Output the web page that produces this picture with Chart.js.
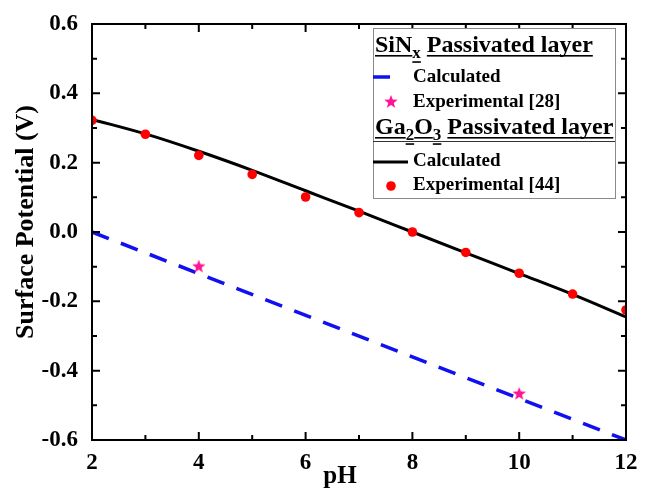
<!DOCTYPE html>
<html>
<head>
<meta charset="utf-8">
<script src="https://cdn.jsdelivr.net/npm/chart.js@4/dist/chart.umd.min.js"></script>
<style>
    html, body { margin: 0; padding: 0; background: #fff; }
</style>
</head>
<body>
<canvas id="chart" width="648" height="490"></canvas>
<script>
    // pH sweep and read-off values
    const phValues = [2, 3, 4, 5, 6, 7, 8, 9, 10, 11, 12];
    const ga2o3Calc = [0.325, 0.283, 0.233, 0.178, 0.119, 0.060, 0.000, -0.060, -0.120, -0.180, -0.245];
    const ga2o3Exp = [0.322, 0.282, 0.221, 0.166, 0.101, 0.056, 0.000, -0.059, -0.119, -0.179, -0.225];

    const sinxCalcPh = [2, 12];
    const sinxCalc = [0.0, -0.6];
    const sinxExpPh = [4, 10];
    const sinxExp = [-0.100, -0.467];

    const xTicks = [2, 4, 6, 8, 10, 12];
    const yTicks = [-0.6, -0.4, -0.2, 0.0, 0.2, 0.4, 0.6];

    const FONT = '"Liberation Serif", "Times New Roman", serif';
    const BLUE = '#1010f0';
    const PINK = '#ff1493';
    const RED = '#ff0000';

    function toPoints(xs, ys) {
        return xs.map(function (x, i) { return {x: x, y: ys[i]}; });
    }

    // filled five point star for the SiNx experimental points
    function makeStar(r, color) {
        let c = document.createElement('canvas');
        c.width = c.height = r * 2 + 2;
        let g = c.getContext('2d');
        g.beginPath();
        for (let i = 0; i < 10; i++) {
            let rad = i % 2 === 0 ? r : r * 0.42;
            let a = -Math.PI / 2 + i * Math.PI / 5;
            let px = r + 1 + rad * Math.cos(a), py = r + 1 + rad * Math.sin(a);
            if (i === 0) g.moveTo(px, py); else g.lineTo(px, py);
        }
        g.closePath();
        g.fillStyle = color;
        g.fill();
        return c;
    }
    const starImg = makeStar(7, PINK);

    function drawRich(ctx, x, y, parts, size) {
        parts.forEach(function (p) {
            let sub = p[1];
            let fs = sub ? Math.round(size * 0.72) : size;
            let dy = sub ? size * 0.26 : 0;
            ctx.font = 'bold ' + fs + 'px ' + FONT;
            let w = ctx.measureText(p[0]).width;
            ctx.fillText(p[0], x, y + dy);
            if (p[0].trim() !== '') ctx.fillRect(x, y + dy + 3, w, 1.6);
            x += w;
        });
    }

    const framePlugin = {
        id: 'frame',
        afterDraw(chart) {
            const ctx = chart.ctx;
            const a = chart.chartArea;
            const xs = chart.scales.x, ys = chart.scales.y;
            ctx.save();
            ctx.strokeStyle = '#000';
            ctx.lineWidth = 2;
            ctx.strokeRect(a.left, a.top, a.right - a.left, a.bottom - a.top);

            ctx.beginPath();
            for (let v = 2; v <= 12; v += 1) {
                let px = xs.getPixelForValue(v);
                let len = v % 2 === 0 ? 8 : 5;
                ctx.moveTo(px, a.bottom); ctx.lineTo(px, a.bottom - len);
                ctx.moveTo(px, a.top); ctx.lineTo(px, a.top + len);
            }
            for (let k = -6; k <= 6; k++) {
                let py = ys.getPixelForValue(k / 10);
                let len = k % 2 === 0 ? 8 : 5;
                ctx.moveTo(a.left, py); ctx.lineTo(a.left + len, py);
                ctx.moveTo(a.right, py); ctx.lineTo(a.right - len, py);
            }
            ctx.stroke();

            // axis titles
            ctx.fillStyle = '#000';
            ctx.textAlign = 'center';
            ctx.textBaseline = 'middle';
            ctx.font = 'bold 25px ' + FONT;
            ctx.fillText('pH', 340, 477);
            ctx.save();
            ctx.translate(26, 222);
            ctx.rotate(-Math.PI / 2);
            ctx.font = 'bold 26px ' + FONT;
            ctx.fillText('Surface Potential (V)', 0, 0);
            ctx.restore();

            // legend box
            const L = 373, T = 28, R = 615, B = 198;
            ctx.fillStyle = '#fff';
            ctx.fillRect(L, T, R - L, B - T);
            ctx.strokeStyle = '#8a8a8a';
            ctx.lineWidth = 1;
            ctx.strokeRect(L + 0.5, T + 0.5, R - L, B - T);

            ctx.fillStyle = '#000';
            ctx.textAlign = 'left';
            ctx.textBaseline = 'alphabetic';
            drawRich(ctx, 375, 52, [['SiN', 0], ['x', 1], [' ', 0], ['Passivated layer', 0]], 24);
            drawRich(ctx, 375, 134, [['Ga', 0], ['2', 1], ['O', 0], ['3', 1], [' ', 0], ['Passivated layer', 0]], 24);
            ctx.fillStyle = '#333';
            ctx.fillRect(L, 141, R - L, 1);

            ctx.fillStyle = '#000';
            ctx.textBaseline = 'middle';
            ctx.font = 'bold 19px ' + FONT;
            ctx.fillText('Calculated', 413, 77);
            ctx.fillText('Experimental [28]', 413, 102);
            ctx.fillText('Calculated', 413, 161);
            ctx.fillText('Experimental [44]', 413, 185);

            ctx.lineWidth = 3.5;
            ctx.strokeStyle = BLUE;
            ctx.beginPath(); ctx.moveTo(373, 77); ctx.lineTo(390, 77); ctx.stroke();
            ctx.drawImage(starImg, 391 - starImg.width / 2, 102 - starImg.height / 2);
            ctx.strokeStyle = '#000';
            ctx.lineWidth = 3;
            ctx.beginPath(); ctx.moveTo(373, 162); ctx.lineTo(408, 162); ctx.stroke();
            ctx.fillStyle = RED;
            ctx.beginPath(); ctx.arc(391, 186, 4.8, 0, Math.PI * 2); ctx.fill();
            ctx.restore();
        }
    };

    new Chart(document.getElementById('chart'), {
        type: 'scatter',
        data: {
            datasets: [
                {
                    label: 'Experimental [28]',
                    data: toPoints(sinxExpPh, sinxExp),
                    pointStyle: starImg,
                    pointRadius: 7,
                    order: 0,
                },
                {
                    label: 'Experimental [44]',
                    data: toPoints(phValues, ga2o3Exp),
                    backgroundColor: RED,
                    borderColor: RED,
                    pointRadius: 4.8,
                    borderWidth: 0,
                    order: 1,
                },
                {
                    label: 'SiNx Calculated',
                    data: toPoints(sinxCalcPh, sinxCalc),
                    showLine: true,
                    borderColor: BLUE,
                    borderWidth: 3.5,
                    borderDash: [18, 13],
                    pointRadius: 0,
                    order: 2,
                },
                {
                    label: 'Ga2O3 Calculated',
                    data: toPoints(phValues, ga2o3Calc),
                    showLine: true,
                    borderColor: '#000',
                    borderWidth: 3,
                    cubicInterpolationMode: 'monotone',
                    pointRadius: 0,
                    order: 3,
                },
            ]
        },
        options: {
            responsive: false,
            animation: false,
            events: [],
            layout: {padding: {top: 24, right: 22, left: 0, bottom: 0}},
            plugins: {legend: {display: false}, tooltip: {enabled: false}},
            scales: {
                x: {
                    type: 'linear',
                    min: 2, max: 12,
                    afterFit: function (s) { s.height = 50; },
                    afterBuildTicks: function (s) { s.ticks = xTicks.map(function (v) { return {value: v}; }); },
                    grid: {display: false},
                    border: {display: false},
                    ticks: {
                        color: '#000',
                        padding: 1,
                        maxRotation: 0,
                        font: {family: FONT, size: 23, weight: 'bold'},
                    },
                },
                y: {
                    type: 'linear',
                    min: -0.6, max: 0.6,
                    afterFit: function (s) { s.width = 92; },
                    afterBuildTicks: function (s) { s.ticks = yTicks.map(function (v) { return {value: v}; }); },
                    grid: {display: false},
                    border: {display: false},
                    ticks: {
                        color: '#000',
                        padding: 6,
                        font: {family: FONT, size: 23, weight: 'bold'},
                        callback: function (v) { return Number(v).toFixed(1); },
                    },
                },
            }
        },
        plugins: [framePlugin]
    });
</script>
</body>
</html>
